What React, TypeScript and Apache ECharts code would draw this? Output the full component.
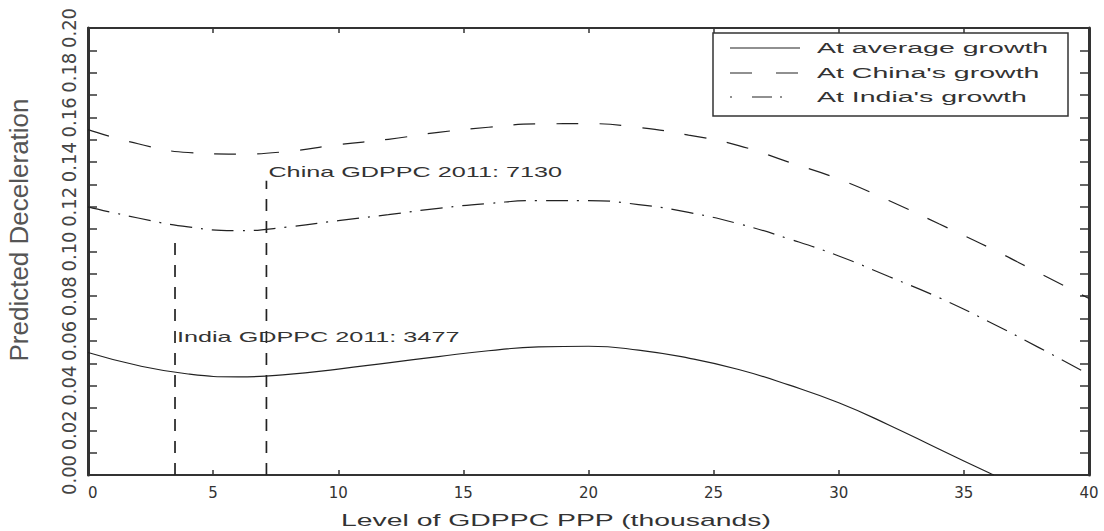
import React, { useEffect, useRef } from "react";
import * as echarts from "echarts";

// GDP per capita level (thousands, PPP)
const levels = [0, 2, 4, 6, 8, 10, 12, 14, 16, 18, 20, 22, 24, 26, 28, 30, 32, 34, 36, 38, 40];
const avgLevels = [0, 2, 4, 6, 8, 10, 12, 14, 16, 18, 20, 22, 24, 26, 28, 30, 32, 34, 36, 36.2];

// Predicted deceleration
const atAverageGrowth = [0.0548, 0.049, 0.0452, 0.0439, 0.045, 0.0474, 0.0502, 0.053, 0.0556, 0.0573, 0.0576, 0.0559, 0.0523, 0.0472, 0.0403, 0.0323, 0.0224, 0.0116, 0.001, 0.0];
const atChinaGrowth = [0.1545, 0.1482, 0.1443, 0.1436, 0.1448, 0.1478, 0.1502, 0.1533, 0.1556, 0.1571, 0.1572, 0.1555, 0.1521, 0.1474, 0.14, 0.1324, 0.1228, 0.1124, 0.1018, 0.0904, 0.079];
const atIndiaGrowth = [0.12, 0.115, 0.111, 0.1093, 0.111, 0.1138, 0.1165, 0.1193, 0.1215, 0.1228, 0.1228, 0.121, 0.1175, 0.1124, 0.1057, 0.098, 0.0888, 0.0794, 0.0686, 0.057, 0.045];

const seriesNames = ["At average growth", "At China's growth", "At India's growth"];

// Reference GDPPC 2011 markers (thousands) and the height of their drop lines
const markerNames = ["India GDPPC 2011: 3477", "China GDPPC 2011: 7130"];
const markerLevels = [3.477, 7.13];
const markerTops = [0.1066, 0.1317];
const markerLabelValues = [0.0617, 0.1357];

const xTicks = [0, 5, 10, 15, 20, 25, 30, 35, 40];
const xTitle = "Level of GDPPC PPP (thousands)";
const yTitle = "Predicted Deceleration";

const ink = "#222";
const textInk = "#333";
const sansFont = '"Liberation Sans", Arial, sans-serif';

export default function App() {
  const ref = useRef<HTMLDivElement>(null);

  useEffect(() => {
    if (!ref.current) return;
    const chart = echarts.init(ref.current, null, { renderer: "svg" });

    const pairs = (xs: number[], ys: number[]) => xs.map((x, i) => [x, ys[i]]);

    const lineSeries = (name: string, data: number[][], type: any) => ({
      name,
      type: "line",
      data,
      smooth: true,
      showSymbol: false,
      symbol: "none",
      silent: true,
      lineStyle: { color: ink, width: 1.2, type },
      xAxisIndex: 0,
      yAxisIndex: 0,
      z: 3,
    });

    const markerSeries = markerNames.map((name, i) => ({
      name,
      type: "line",
      data: [
        [markerLevels[i], 0],
        [markerLevels[i], markerTops[i]],
      ],
      showSymbol: false,
      symbol: "none",
      silent: true,
      lineStyle: { color: ink, width: 1.7, type: [12, 10] },
      xAxisIndex: 0,
      yAxisIndex: 0,
      z: 2,
    }));

    const yLabelFont = '"Liberation Sans Narrow", "DejaVu Sans Condensed", "Liberation Sans", sans-serif';

    chart.setOption({
      animation: false,
      backgroundColor: "#fff",
      textStyle: { fontFamily: sansFont },
      grid: { left: 88, right: 15, top: 28, bottom: 56, outerBoundsMode: "none", containLabel: false },
      xAxis: [
        {
          type: "value",
          min: xTicks[0],
          max: xTicks[xTicks.length - 1],
          interval: xTicks[1] - xTicks[0],
          position: "bottom",
          axisLine: { onZero: false, lineStyle: { color: "#333", width: 2 } },
          axisTick: { inside: true, length: 5, lineStyle: { color: "#333", width: 1.5 } },
          axisLabel: {
            color: textInk,
            fontSize: 15,
            fontFamily: '"DejaVu Sans", sans-serif',
            margin: 10,
            alignMinLabel: "left",
          },
          splitLine: { show: false },
        },
        {
          type: "value",
          min: xTicks[0],
          max: xTicks[xTicks.length - 1],
          interval: xTicks[1] - xTicks[0],
          position: "top",
          axisLine: { onZero: false, lineStyle: { color: "#333", width: 2 } },
          axisTick: { inside: true, length: 5, lineStyle: { color: "#333", width: 1.5 } },
          axisLabel: { show: false },
          splitLine: { show: false },
        },
      ],
      yAxis: [
        {
          type: "value",
          min: 0,
          max: 0.2,
          interval: 0.01,
          position: "left",
          axisLine: { onZero: false, lineStyle: { color: "#333", width: 3 } },
          axisTick: { inside: true, length: 9, lineStyle: { color: "#333", width: 1.5 } },
          axisLabel: {
            rotate: 90,
            color: "#444",
            fontSize: 20,
            fontFamily: yLabelFont,
            margin: 9,
            formatter: (v: number, i: number) => (i % 2 === 0 ? v.toFixed(2) : ""),
          },
          splitLine: { show: false },
        },
        {
          type: "value",
          min: 0,
          max: 0.2,
          interval: 0.01,
          position: "right",
          axisLine: { onZero: false, lineStyle: { color: "#333", width: 3 } },
          axisTick: { inside: true, length: 9, lineStyle: { color: "#333", width: 1.5 } },
          axisLabel: { show: false },
          splitLine: { show: false },
        },
      ],
      series: [
        lineSeries(seriesNames[0], pairs(avgLevels, atAverageGrowth), "solid"),
        lineSeries(seriesNames[1], pairs(levels, atChinaGrowth), [22, 21]),
        lineSeries(seriesNames[2], pairs(levels, atIndiaGrowth), [22, 9, 2, 9]),
        ...markerSeries,
      ],
    });

    const toPx = (x: number, y: number) => chart.convertToPixel({ seriesIndex: 0 }, [x, y]) as number[];

    const legendRows = [48, 73, 97];
    const legendDashes: any[] = [null, [22, 24], [2, 20, 20, 8]];

    const graphics: any[] = [
      {
        type: "rect",
        shape: { x: 713, y: 33, width: 355, height: 83 },
        style: { fill: "#fff", stroke: "#333", lineWidth: 1.5 },
        z: 10,
      },
    ];
    seriesNames.forEach((name, i) => {
      graphics.push({
        type: "line",
        shape: { x1: 730, y1: legendRows[i], x2: 800, y2: legendRows[i] },
        style: { stroke: ink, lineWidth: 1.2, lineDash: legendDashes[i] || undefined },
        z: 11,
      });
      graphics.push({
        type: "text",
        x: 817,
        y: legendRows[i],
        scaleX: 1.9,
        style: {
          text: name,
          fill: textInk,
          font: `15px ${sansFont}`,
          align: "left",
          textAlign: "left",
          verticalAlign: "middle",
          textVerticalAlign: "middle",
        },
        z: 11,
      });
    });

    markerNames.forEach((name, i) => {
      const p = toPx(markerLevels[i], markerLabelValues[i]);
      graphics.push({
        type: "text",
        x: p[0] + 2,
        y: p[1],
        scaleX: 1.8,
        style: {
          text: name,
          fill: textInk,
          font: `14px ${sansFont}`,
          align: "left",
          textAlign: "left",
          verticalAlign: "middle",
          textVerticalAlign: "middle",
        },
        z: 5,
      });
    });

    graphics.push({
      type: "text",
      x: 556,
      y: 520,
      scaleX: 1.67,
      style: {
        text: xTitle,
        fill: textInk,
        font: `17px ${sansFont}`,
        align: "center",
        textAlign: "center",
        verticalAlign: "middle",
        textVerticalAlign: "middle",
      },
    });
    graphics.push({
      type: "text",
      x: 19,
      y: 230,
      rotation: Math.PI / 2,
      style: {
        text: yTitle,
        fill: "#555",
        font: `26px ${sansFont}`,
        align: "center",
        textAlign: "center",
        verticalAlign: "middle",
        textVerticalAlign: "middle",
      },
    });

    chart.setOption({ graphic: graphics });

    return () => chart.dispose();
  }, []);

  return <div ref={ref} style={{ position: "fixed", left: 0, top: 0, width: 1104, height: 531 }} />;
}
